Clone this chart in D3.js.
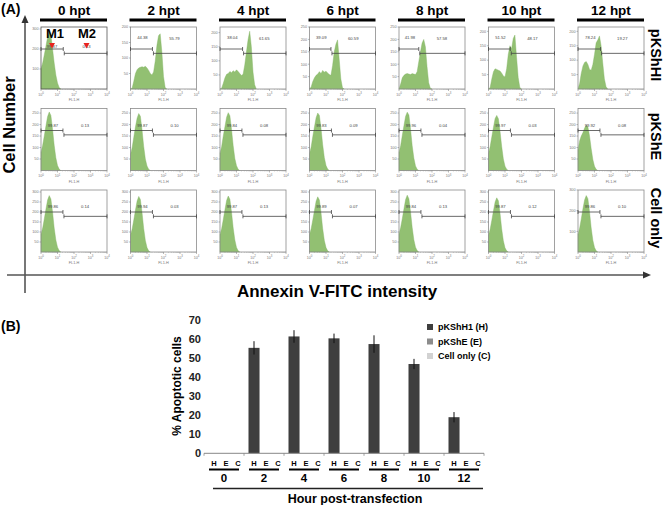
<!DOCTYPE html>
<html><head><meta charset="utf-8">
<script src="https://cdn.jsdelivr.net/npm/d3@7"></script>
<style>body{margin:0;background:#fff} svg{display:block;font-family:"Liberation Sans",Arial,sans-serif}</style>
</head><body><svg id="c" width="664" height="505"></svg>
<script>
// ---------- Panel A data ----------
const hptLabels = ["0 hpt","2 hpt","4 hpt","6 hpt","8 hpt","10 hpt","12 hpt"];
const rowLabels = ["pKShHI","pKShE","Cell only"];
// FL1-H intensity bins (log-spaced, 10 per decade)
const fl1Bins = [1,1.26,1.58,2,2.51,3.16,3.98,5.01,6.31,7.94,10,12.6,15.8,20,25.1,31.6,39.8,50.1,63.1,79.4,100,126,158,200,251,316];
const xDecades = [1,10,100,1000,10000];
const decadeExp = ["0","1","2","3","4"];

const histHI = [
 [100,130,170,215,260,290,270,200,130,70,30,8,0],
 [0,3,25,50,62,68,70,72,70,73,68,60,50,45,55,90,140,172,178,120,40,5,0],
 [0,3,20,40,52,55,62,58,65,60,68,62,55,48,52,85,130,175,205,150,60,15,0],
 [0,8,30,45,55,60,70,62,75,68,72,65,58,55,95,150,180,198,120,40,5,0],
 [0,20,45,55,60,62,60,58,62,60,58,70,110,150,185,200,170,90,25,3,0],
 [0,5,35,60,70,68,65,62,55,45,42,70,120,150,140,175,187,110,40,5,0],
 [0,20,55,80,92,95,85,68,65,85,120,160,170,184,150,90,35,8,0]
];
const histE = [
 [80,110,150,195,235,255,240,180,110,55,22,6,0],
 [70,100,145,190,228,248,236,176,105,50,20,5,0],
 [75,105,150,192,232,252,238,178,108,52,21,5,0],
 [72,102,148,190,230,250,240,182,112,56,22,6,0],
 [78,108,152,196,236,254,242,180,108,54,20,5,0],
 [74,104,146,188,226,240,225,170,104,50,19,5,0],
 [90,130,150,165,185,197,190,150,95,48,18,5,0]
];
const histC = [
 [90,120,165,215,260,282,265,200,120,60,24,7,0],
 [85,115,160,210,255,278,262,196,118,58,22,6,0],
 [88,118,162,212,258,280,264,198,120,60,23,6,0],
 [86,116,160,208,254,276,260,195,116,57,22,6,0],
 [90,122,166,216,262,284,266,200,122,61,24,7,0],
 [84,114,158,206,250,271,256,192,115,56,21,6,0],
 [86,116,160,210,252,273,258,194,116,57,22,6,0]
];
const yMaxHI = [310,200,220,250,250,215,215];
const yMaxE  = [270,270,270,270,270,270,270];
const yMaxC  = [310,310,310,310,310,310,300];
const tickStepHI = [100,50,50,50,50,50,50];
const tickStepE  = [50,50,50,50,50,50,50];
const tickStepC  = [50,50,50,50,50,50,100];
const gateHI = [22.4,21.4,23.4,20,15.8,20.9,23.4];
const gateE  = [21.4,21.4,21.4,21.4,21.4,21.4,21.4];
const gateC  = [21.4,21.4,21.4,21.4,21.4,21.4,21.4];
const m1HI = ["99.87","44.38","38.04","39.09","41.98","51.52","78.24"];
const m2HI = ["0.13","55.79","61.65","60.59","57.58","48.17","19.27"];
const m1E  = ["99.87","99.87","99.84","99.83","99.96","99.97","99.92"];
const m2E  = ["0.13","0.10","0.08","0.09","0.04","0.03","0.08"];
const m1C  = ["99.86","99.94","99.87","99.89","99.84","99.87","99.86"];
const m2C  = ["0.14","0.03","0.13","0.07","0.13","0.12","0.10"];

// ---------- Panel B data ----------
const hours = ["0","2","4","6","8","10","12"];
const subGroups = ["H","E","C"];
const valH = [0,55.5,61.5,60.5,57.5,47,19];
const errH = [0,3.5,3.3,2.5,4.6,2.7,2.7];
const valE = [0,0,0,0,0,0,0];
const valC = [0,0,0,0,0,0,0];
const yTicksB = [0,10,20,30,40,50,60,70];
const legendLabels = ["pKShH1 (H)","pKShE (E)","Cell only (C)"];
const barColors = ["#3e3e3e","#8c8c8c","#d2d2d2"];

const svg = d3.select("#c");
const bold = s => s.attr("font-weight","bold");

// ================= PART A =================
const A = svg.append("g");
bold(A.append("text").attr("x",1).attr("y",14).attr("font-size",14).text("(A)"));

const colX = d3.scaleLinear().domain([0,6]).range([41,578]);
const rowY = d3.scaleLinear().domain([0,2]).range([27,190]);
const PW = 66, PH = 62;

hptLabels.forEach((t,i)=>{
  bold(A.append("text").attr("x",colX(i)+PW/2).attr("y",15).attr("text-anchor","middle")
    .attr("font-size",13.5).text(t));
  A.append("line").attr("x1",colX(i)-1).attr("x2",colX(i)+PW).attr("y1",20).attr("y2",20)
    .attr("stroke","#000").attr("stroke-width",3);
});

const rows = [
 {hist:histHI, ymax:yMaxHI, step:tickStepHI, gate:gateHI, m1:m1HI, m2:m2HI, off1:10, off2:13},
 {hist:histE,  ymax:yMaxE,  step:tickStepE,  gate:gateE,  m1:m1E,  m2:m2E,  off1:4, off2:8},
 {hist:histC,  ymax:yMaxC,  step:tickStepC,  gate:gateC,  m1:m1C,  m2:m2C,  off1:4, off2:8}
];

rows.forEach((R,r)=>{
  for(let c=0;c<7;c++){
    const g = A.append("g").attr("transform",`translate(${colX(c)},${rowY(r)})`);
    const x = d3.scaleLog().domain([1,10000]).range([0,PW]);
    const y = d3.scaleLinear().domain([0,R.ymax[c]]).range([PH,0]);
    const data = R.hist[c];
    const area = d3.area().x((d,i)=>x(fl1Bins[i])).y0(PH).y1(d=>y(d)).curve(d3.curveLinear);
    g.append("path").datum(data).attr("d",area).attr("fill","#92c072").attr("stroke","#82b462").attr("stroke-width",0.4);
    g.append("rect").attr("width",PW).attr("height",PH).attr("fill","none")
      .attr("stroke", (r===0&&c===0)?"#555":"#8a8a8a").attr("stroke-width",0.8);
    // y ticks
    const yt = d3.range(R.step[c], R.ymax[c]+1, R.step[c]);
    yt.forEach(v=>{
      g.append("line").attr("x1",-1.5).attr("x2",0).attr("y1",y(v)).attr("y2",y(v)).attr("stroke","#777").attr("stroke-width",0.5);
      g.append("text").attr("x",-2.5).attr("y",y(v)+1.3).attr("text-anchor","end").attr("font-size",3.8).attr("fill","#777").text(v);
    });
    // x ticks
    xDecades.forEach((v,k)=>{
      g.append("line").attr("x1",x(v)).attr("x2",x(v)).attr("y1",PH).attr("y2",PH+2).attr("stroke","#777").attr("stroke-width",0.5);
      const t = g.append("text").attr("x",x(v)).attr("y",PH+6.5).attr("text-anchor","middle").attr("font-size",3.6).attr("fill","#777");
      t.append("tspan").text("10");
      t.append("tspan").attr("dy",-1.5).attr("font-size",2.8).text(decadeExp[k]);
      if(k<4){ for(let m=2;m<10;m++){ const xv=x(v*m);
        g.append("line").attr("x1",xv).attr("x2",xv).attr("y1",PH).attr("y2",PH+1).attr("stroke","#999").attr("stroke-width",0.4);} }
    });
    g.append("text").attr("x",PW/2).attr("y",PH+12).attr("text-anchor","middle").attr("font-size",3.8).attr("fill","#777").text("FL1-H");
    // gates
    const gx = x(R.gate[c]);
    const gy1 = PH*(1-0.645), gy2 = PH*(1-0.575);
    const seg = (x1,x2,yy)=>{
      g.append("line").attr("x1",x1).attr("x2",x2).attr("y1",yy).attr("y2",yy).attr("stroke","#444").attr("stroke-width",0.8);
      [x1,x2].forEach(xx=>g.append("line").attr("x1",xx).attr("x2",xx).attr("y1",yy-2).attr("y2",yy+2).attr("stroke","#444").attr("stroke-width",0.8));
    };
    seg(0,gx,gy1); seg(gx+1,PW,gy2);
    const first = (r===0&&c===0);
    g.append("text").attr("x",first?11:gx/2+1).attr("y",first?20.5:gy1-R.off1).attr("text-anchor","middle").attr("font-size",4.2).attr("fill","#444").text(R.m1[c]);
    g.append("text").attr("x",first?45.5:(gx+PW)/2).attr("y",first?20.5:gy2-R.off2).attr("text-anchor","middle").attr("font-size",4.2).attr("fill","#444").text(R.m2[c]);
    if(first){
      [["M1",14,11],["M2",46,45.5]].forEach(([lab,tx,px])=>{
        bold(g.append("text").attr("x",tx).attr("y",10.5).attr("text-anchor","middle").attr("font-size",13).text(lab));
        g.append("path").attr("d",`M${px-3},16L${px+3},16L${px},21.5Z`).attr("fill","#e8231f");
      });
    }
  }
  bold(A.append("text").attr("transform",`translate(656,${rowY(r)+PH/2-3}) rotate(90)`)
    .attr("text-anchor","middle").attr("dominant-baseline","central").attr("font-size",14.5).text(rowLabels[r]));
});

// big axes
A.append("line").attr("x1",25).attr("x2",25).attr("y1",293).attr("y2",21).attr("stroke","#555").attr("stroke-width",1.6);
A.append("path").attr("d","M21.5,23L28.5,23L25,15Z").attr("fill","#333");
A.append("line").attr("x1",7).attr("x2",644).attr("y1",275).attr("y2",275).attr("stroke","#555").attr("stroke-width",1.6);
A.append("path").attr("d","M643,271.5L643,278.5L651,275Z").attr("fill","#333");
bold(A.append("text").attr("transform","translate(15,125) rotate(-90)").attr("text-anchor","middle")
  .attr("font-size",16.5).text("Cell Number"));
bold(A.append("text").attr("x",337).attr("y",297).attr("text-anchor","middle").attr("font-size",17).text("Annexin V-FITC intensity"));

// ================= PART B =================
const B = svg.append("g");
bold(B.append("text").attr("x",1).attr("y",331).attr("font-size",14).text("(B)"));
const xg = d3.scaleBand().domain(hours).range([204,484]);
const xs = d3.scaleBand().domain(subGroups).range([4.5,39.5]).paddingInner(0.08);
const yB = d3.scaleLinear().domain([0,70]).range([453.3,320.3]);
const vals = [valH,valE,valC];

const ax = B.append("g").attr("transform","translate(203,0)")
  .call(d3.axisLeft(yB).tickValues(yTicksB).tickSize(0).tickPadding(2));
ax.select(".domain").remove();
ax.selectAll("text").attr("font-family","'Liberation Sans Narrow',Arial Narrow,sans-serif")
  .attr("font-weight","bold").attr("font-size",11).attr("fill","#222");

bold(B.append("text").attr("transform","translate(181,386) rotate(-90)").attr("text-anchor","middle")
  .attr("font-size",12).text("% Apoptotic cells"));

hours.forEach((h,i)=>{
  subGroups.forEach((s,k)=>{
    const v = vals[k][i];
    B.append("rect").attr("x",xg(h)+xs(s)).attr("width",xs.bandwidth())
      .attr("y",yB(v)).attr("height",yB(0)-yB(v)).attr("fill",barColors[k]);
    bold(B.append("text").attr("x",xg(h)+xs(s)+xs.bandwidth()/2).attr("y",465.5).attr("text-anchor","middle")
      .attr("font-size",7.5).text(s));
  });
  if(errH[i]>0){
    const cx = xg(h)+xs("H")+xs.bandwidth()/2;
    B.append("line").attr("x1",cx).attr("x2",cx).attr("y1",yB(valH[i]+errH[i])).attr("y2",yB(valH[i]-errH[i]))
      .attr("stroke","#111").attr("stroke-width",1);
  }
  B.append("line").attr("x1",xg(h)+5).attr("x2",xg(h)+35).attr("y1",469.5).attr("y2",469.5).attr("stroke","#000").attr("stroke-width",2);
  bold(B.append("text").attr("x",xg(h)+20).attr("y",482).attr("text-anchor","middle").attr("font-size",11.5).text(h));
  B.append("line").attr("x1",xg(h)).attr("x2",xg(h)).attr("y1",yB(0)).attr("y2",yB(0)+2.5).attr("stroke","#888").attr("stroke-width",0.8);
});
B.append("line").attr("x1",484).attr("x2",484).attr("y1",yB(0)).attr("y2",yB(0)+2.5).attr("stroke","#888").attr("stroke-width",0.8);
B.append("line").attr("x1",204).attr("x2",484).attr("y1",yB(0)).attr("y2",yB(0)).attr("stroke","#888").attr("stroke-width",1);
B.append("line").attr("x1",213).attr("x2",483).attr("y1",488.5).attr("y2",488.5).attr("stroke","#222").attr("stroke-width",1.5);
bold(B.append("text").attr("x",355).attr("y",503).attr("text-anchor","middle").attr("font-size",12.5).text("Hour post-transfection"));

legendLabels.forEach((t,k)=>{
  B.append("rect").attr("x",427).attr("y",324+k*14.5).attr("width",6).attr("height",6).attr("fill",barColors[k]);
  bold(B.append("text").attr("x",438).attr("y",330+k*14.5).attr("font-size",9).text(t));
});
</script></body></html>
